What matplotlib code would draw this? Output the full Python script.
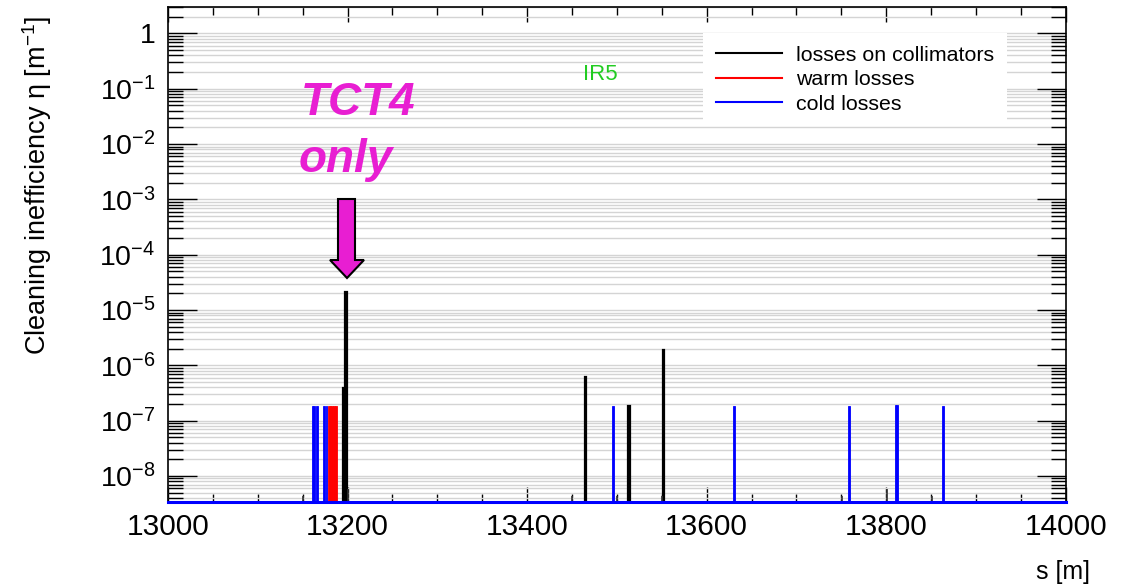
import numpy as np
import matplotlib
matplotlib.use("Agg")
import matplotlib.pyplot as plt
from matplotlib.patches import Polygon
from matplotlib.lines import Line2D
from matplotlib.ticker import FixedLocator, NullFormatter, MultipleLocator

plt.rcParams["font.family"] = ["Liberation Sans", "DejaVu Sans"]
plt.rcParams["mathtext.fontset"] = "custom"
plt.rcParams["mathtext.rm"] = "Liberation Sans"
plt.rcParams["mathtext.it"] = "Liberation Sans:italic"

# Data
coll_s = [13196.0, 13198.4, 13465.0, 13513.3, 13552.0]
coll_eta = [3.85e-7, 2.1e-5, 6.2e-7, 1.82e-7, 1.87e-6]
# tiny collimator losses near the floor
small_s = [13150.0, 13200.5, 13450.0, 13500.6, 13550.7, 13751.0, 13801.0, 13850.6]
small_eta = [4.3e-9, 5.7e-9, 4.3e-9, 4.3e-9, 4.3e-9, 4.3e-9, 5.7e-9, 4.3e-9]

warm_s = [13179.0, 13181.0, 13183.0, 13185.0, 13187.0]
warm_eta = [1.82e-7, 1.82e-7, 1.82e-7, 1.82e-7, 1.82e-7]

cold_s = [13161.0, 13163.0, 13166.2, 13174.0, 13176.5, 13495.6, 13630.5,
          13758.6, 13810.3, 13812.0, 13863.3]
cold_eta = [1.82e-7, 1.82e-7, 1.82e-7, 1.82e-7, 1.82e-7, 1.82e-7, 1.82e-7,
            1.82e-7, 1.9e-7, 1.9e-7, 1.82e-7]

xlim = (13000, 14000)
ylim = (3.34e-9, 3.03)
BIN = 2.0

fig = plt.figure(figsize=(11.21, 5.88), dpi=100)
ax = fig.add_axes([168 / 1121, 1 - 502.3 / 588, (1065.7 - 168) / 1121, (502.3 - 6.7) / 588])
ax.set_yscale("log")
ax.set_xlim(*xlim)
ax.set_ylim(*ylim)

# only the decades inside the range, minor ticks at 2..9 of each decade
decades = 10.0 ** np.arange(-8, 1)
minors = [m * d for d in 10.0 ** np.arange(-9, 1) for m in range(2, 10)]
minors = [v for v in minors if ylim[0] <= v <= ylim[1]]
ax.yaxis.set_major_locator(FixedLocator(decades))
ax.yaxis.set_minor_locator(FixedLocator(minors))
ax.grid(True, which="both", axis="y", color="#d4d4d4", lw=1.0, zorder=0)
ax.set_axisbelow(True)

bottom = 1e-12
ax.bar(cold_s, np.array(cold_eta) - bottom, width=BIN, bottom=bottom, color="#0000ff",
       edgecolor="#0000ff", lw=0.6, zorder=2)
ax.bar(warm_s, np.array(warm_eta) - bottom, width=BIN, bottom=bottom, color="#ff0000",
       edgecolor="#ff0000", lw=0.6, zorder=3)
ax.bar(coll_s, np.array(coll_eta) - bottom, width=BIN, bottom=bottom, color="black",
       edgecolor="black", lw=1.6, zorder=4)
ax.vlines(small_s, bottom, small_eta, color="#333333", lw=1.2, zorder=4)

# cold-loss histogram floor along the bottom
ax.axhline(ylim[0], color="#0000ff", lw=2.2, zorder=6, clip_on=False)

# ticks ROOT style
ax.xaxis.set_major_locator(MultipleLocator(200))
ax.xaxis.set_minor_locator(MultipleLocator(50))
ax.tick_params(axis="x", which="major", direction="in", length=10.8, width=1,
               top=True, bottom=True, labelsize=21.5, pad=8)
ax.tick_params(axis="x", which="minor", direction="in", length=5.8, width=1,
               top=True, bottom=True)
ax.tick_params(axis="y", which="major", direction="in", length=21, width=1,
               left=True, right=True, labelsize=20.5, pad=9)
ax.tick_params(axis="y", which="minor", direction="in", length=10.8, width=1,
               left=True, right=True)
ax.yaxis.set_minor_formatter(NullFormatter())

def ylab(v, pos):
    e = int(round(np.log10(v)))
    if e == 0:
        return "1"
    return "$10^{%d}$" % e

ax.yaxis.set_major_formatter(plt.FuncFormatter(ylab))
for sp in ax.spines.values():
    sp.set_linewidth(1.2)
    sp.set_color("black")

# axis titles
fig.text(37 / 1121, 1 - 16 / 588, "Cleaning inefficiency η [m$^{-1}$]", rotation=90,
         ha="center", va="top", fontsize=19.5)
fig.text(1090 / 1121, 1 - 572 / 588, "s [m]", ha="right", va="center", fontsize=18)

# IR label
fig.text(600 / 1121, 1 - 75 / 588, "IR5", color="#22cc22", ha="center", va="center",
         fontsize=16)

# legend
handles = [Line2D([], [], color="black", lw=1.5),
           Line2D([], [], color="#ff0000", lw=1.5),
           Line2D([], [], color="#0000ff", lw=1.5)]
leg = ax.legend(handles, ["losses on collimators", "warm losses", "cold losses"],
                loc="upper left",
                bbox_to_anchor=((703 - 168) / 897.7, 1 - (33 - 6.7) / 495.6),
                borderaxespad=0, borderpad=0.6, fontsize=15.4, handlelength=3.1,
                handletextpad=0.66, labelspacing=0.25, frameon=True, fancybox=False,
                framealpha=1, facecolor="white", edgecolor="none")
leg.set_zorder(7)

# TCT4 annotation
mag = "#e81ed2"
fig.text(301 / 1121, 1 - 115 / 588, "TCT4", color=mag, fontsize=33, fontweight="bold",
         fontstyle="italic", ha="left", va="baseline")
fig.text(299 / 1121, 1 - 172 / 588, "only", color=mag, fontsize=33, fontweight="bold",
         fontstyle="italic", ha="left", va="baseline")
pts = [(338, 199), (355, 199), (355, 260), (364, 260), (347, 278), (330, 260), (338, 260)]
arrow = Polygon([(x / 100, (588 - y) / 100) for x, y in pts], closed=True,
                transform=fig.dpi_scale_trans, facecolor=mag, edgecolor="black", lw=1.5,
                zorder=10)
fig.patches.append(arrow)

fig.savefig("out.png", dpi=100)
